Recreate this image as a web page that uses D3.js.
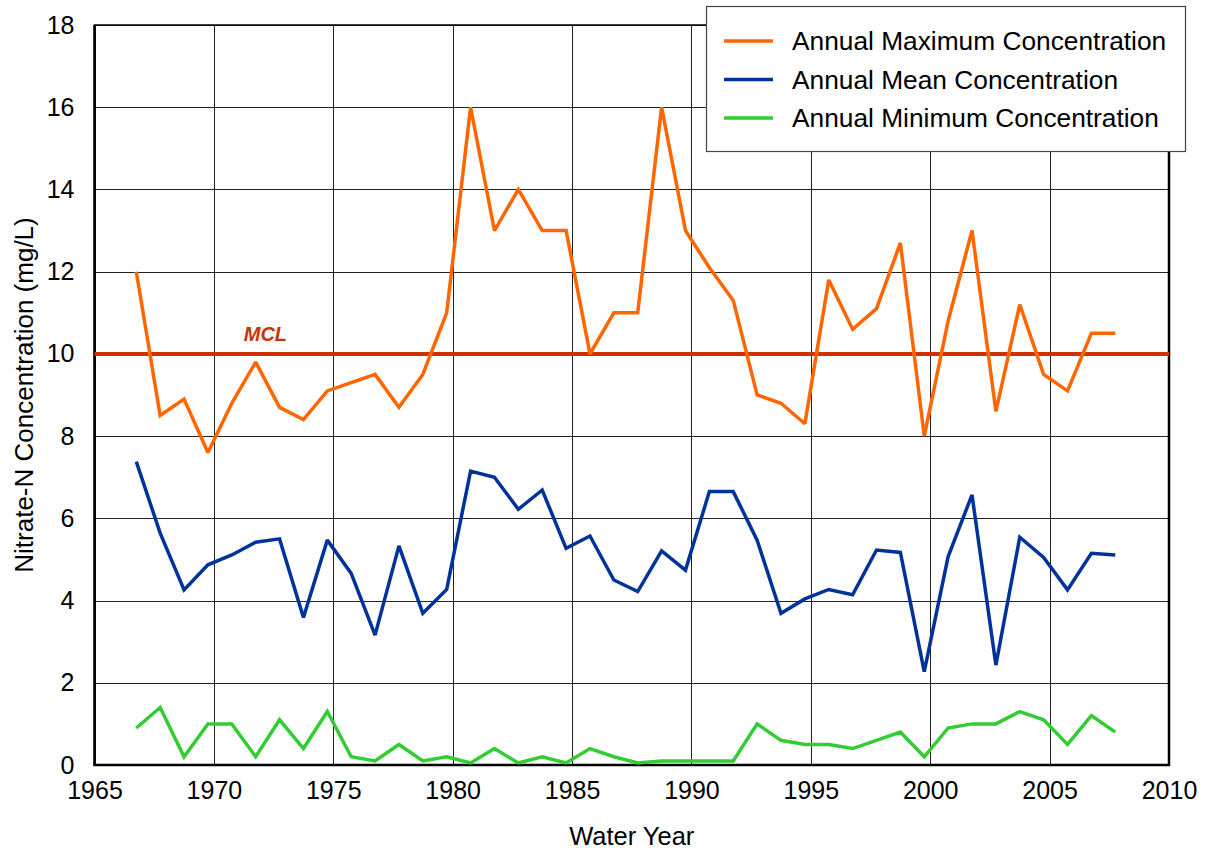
<!DOCTYPE html>
<html>
<head>
<meta charset="utf-8">
<script src="https://cdn.jsdelivr.net/npm/d3@7"></script>
<style>
  body { margin: 0; background: #fff; }
  svg text { font-family: Arial, "Liberation Sans", sans-serif; fill: #000; }
</style>
</head>
<body>
<svg id="chart" width="1205" height="852"></svg>
<script>
// water years, values in mg/L
const years = d3.range(1967, 2009);
const maxConc = [12, 8.5, 8.9, 7.6, 8.8, 9.8, 8.7, 8.4, 9.1, 9.3, 9.5, 8.7, 9.5, 11, 16,
                 13, 14, 13, 13, 10, 11, 11, 16, 13, 12.1, 11.3, 9, 8.8, 8.3, 11.8, 10.6,
                 11.1, 12.7, 8, 10.8, 13, 8.6, 11.2, 9.5, 9.1, 10.5, 10.5];
const meanConc = [7.38, 5.64, 4.26, 4.87, 5.11, 5.42, 5.5, 3.59, 5.47, 4.66, 3.16, 5.33, 3.69, 4.27, 7.15,
                  7.0, 6.22, 6.69, 5.27, 5.57, 4.5, 4.22, 5.21, 4.74, 6.65, 6.65, 5.47, 3.69, 4.04, 4.27, 4.14,
                  5.23, 5.17, 2.27, 5.07, 6.57, 2.43, 5.54, 5.05, 4.26, 5.15, 5.11];
const minConc = [0.9, 1.4, 0.2, 1.0, 1.0, 0.2, 1.1, 0.4, 1.3, 0.2, 0.1, 0.5, 0.1, 0.2, 0.05,
                 0.4, 0.05, 0.2, 0.05, 0.4, 0.2, 0.05, 0.1, 0.1, 0.1, 0.1, 1.0, 0.6, 0.5, 0.5, 0.4,
                 0.6, 0.8, 0.2, 0.9, 1.0, 1.0, 1.3, 1.1, 0.5, 1.2, 0.8];
const mcl = 10;
const xTicks = d3.range(1965, 2011, 5);
const yTicks = d3.range(0, 19, 2);
const seriesNames = ['Annual Maximum Concentration', 'Annual Mean Concentration', 'Annual Minimum Concentration'];

const colors = ['#ff6600', '#003399', '#33cc33'];
const yearOffset = -0.25; // water year plotted from start of October

const plot = { left: 94.5, right: 1169, top: 25, bottom: 765 };
const svg = d3.select('#chart');

const x = d3.scaleLinear().domain([1965, 2010]).range([plot.left, plot.right]);
const y = d3.scaleLinear().domain([0, 18]).range([plot.bottom, plot.top]);

// grid
const grid = svg.append('g');
grid.selectAll('line.vg').data(xTicks).join('line')
    .attr('x1', d => Math.round(x(d)) + 0.5).attr('x2', d => Math.round(x(d)) + 0.5)
    .attr('y1', plot.top).attr('y2', plot.bottom)
    .attr('stroke', '#222').attr('stroke-width', 1);
grid.selectAll('line.hg').data(yTicks).join('line')
    .attr('y1', d => Math.round(y(d)) + 0.5).attr('y2', d => Math.round(y(d)) + 0.5)
    .attr('x1', plot.left).attr('x2', plot.right)
    .attr('stroke', '#222').attr('stroke-width', 1);

// frame
svg.append('rect')
    .attr('x', plot.left).attr('y', plot.top)
    .attr('width', plot.right - plot.left).attr('height', plot.bottom - plot.top)
    .attr('fill', 'none').attr('stroke', '#000').attr('stroke-width', 1.5);
svg.append('path')
    .attr('d', `M${plot.left},${plot.top}V${plot.bottom}H${plot.right}V${plot.top}`)
    .attr('fill', 'none').attr('stroke', '#000').attr('stroke-width', 2.5);

// axes labels via d3 axes
const yAxis = svg.append('g')
    .attr('transform', `translate(${plot.left},0)`)
    .call(d3.axisLeft(y).tickValues(yTicks).tickSize(0).tickPadding(20));
const xAxis = svg.append('g')
    .attr('transform', `translate(0,${plot.bottom})`)
    .call(d3.axisBottom(x).tickValues(xTicks).tickFormat(d3.format('d')).tickSize(0).tickPadding(16));
[yAxis, xAxis].forEach(a => {
    a.select('.domain').remove();
    a.selectAll('text').style('font-size', '25px').attr('fill', '#000')
        .style('font-family', 'Arial, "Liberation Sans", sans-serif');
});

// MCL
svg.append('line')
    .attr('x1', plot.left).attr('x2', plot.right)
    .attr('y1', y(mcl)).attr('y2', y(mcl))
    .attr('stroke', '#cc3300').attr('stroke-width', 4);
svg.append('text')
    .attr('x', x(1971.25)).attr('y', y(mcl) - 13)
    .text('MCL')
    .style('font-size', '20px').style('font-weight', 'bold').style('font-style', 'italic')
    .style('fill', '#cc3300');

// series
const line = d3.line()
    .x((d, i) => x(years[i] + yearOffset))
    .y(d => y(d));
[maxConc, meanConc, minConc].forEach((s, k) => {
    svg.append('path')
        .datum(s)
        .attr('d', line)
        .attr('fill', 'none')
        .attr('stroke', colors[k])
        .attr('stroke-width', 3.5)
        .attr('stroke-linejoin', 'miter')
        .attr('stroke-miterlimit', 2);
});

// axis titles
svg.append('text')
    .attr('x', (plot.left + plot.right) / 2).attr('y', 845)
    .attr('text-anchor', 'middle')
    .style('font-size', '25.5px')
    .text('Water Year');
svg.append('text')
    .attr('transform', `translate(33,${(plot.top + plot.bottom) / 2}) rotate(-90)`)
    .attr('text-anchor', 'middle')
    .style('font-size', '26px')
    .text('Nitrate-N Concentration (mg/L)');

// legend
const legend = svg.append('g');
legend.append('rect')
    .attr('x', 706.5).attr('y', 6.5).attr('width', 479).attr('height', 145)
    .attr('fill', '#fff').attr('stroke', '#444').attr('stroke-width', 1.2);
seriesNames.forEach((name, i) => {
    const ly = 41 + i * 38.5;
    legend.append('line')
        .attr('x1', 724).attr('x2', 773).attr('y1', ly).attr('y2', ly)
        .attr('stroke', colors[i]).attr('stroke-width', 3.5);
    legend.append('text')
        .attr('x', 792).attr('y', ly)
        .attr('dy', '0.35em')
        .style('font-size', '26.3px')
        .text(name);
});
</script>
</body>
</html>
